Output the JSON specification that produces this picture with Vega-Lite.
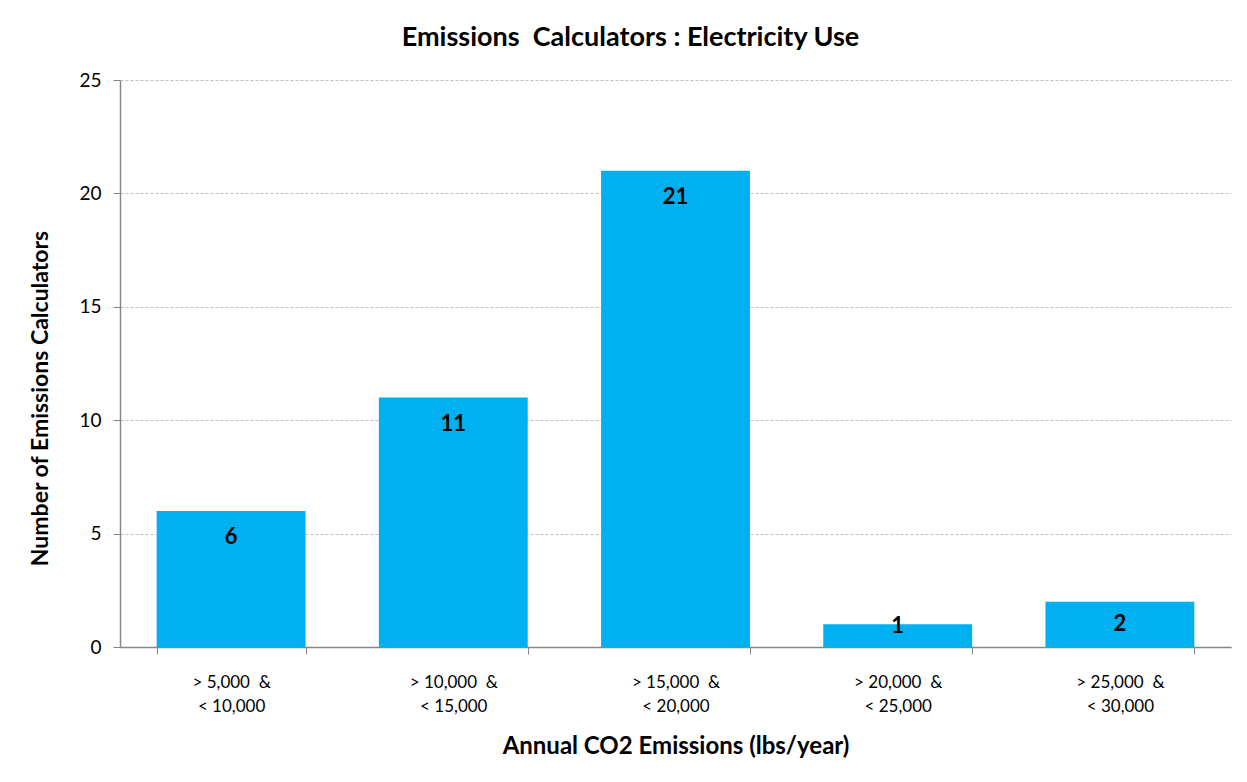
{
  "$schema": "https://vega.github.io/schema/vega-lite/v6.json",
  "width": 1111,
  "height": 567,
  "autosize": "none",
  "padding": {"left": 120, "top": 80, "right": 16, "bottom": 135},
  "background": "white",
  "title": {
    "text": "Emissions\u00a0 Calculators : Electricity Use",
    "font": "Lato",
    "fontSize": 27,
    "fontWeight": "bold",
    "color": "black",
    "anchor": "middle",
    "dx": -45,
    "offset": 19
  },
  "data": {
    "values": [
      {"range": "> 5,000\u00a0 &|< 10,000", "count": 6},
      {"range": "> 10,000\u00a0 &|< 15,000", "count": 11},
      {"range": "> 15,000\u00a0 &|< 20,000", "count": 21},
      {"range": "> 20,000\u00a0 &|< 25,000", "count": 1},
      {"range": "> 25,000\u00a0 &|< 30,000", "count": 2}
    ]
  },
  "encoding": {
    "x": {
      "field": "range",
      "type": "nominal",
      "sort": null,
      "scale": {"paddingInner": 0.33, "paddingOuter": 0.165},
      "axis": {
        "title": "Annual CO2 Emissions (lbs/year)",
        "titleFont": "Lato",
        "titleFontSize": 24,
        "titleFontWeight": "bold",
        "titleColor": "black",
        "titlePadding": 20,
        "labelExpr": "split(datum.label, '|')",
        "labelFont": "Lato",
        "labelFontSize": 17,
        "labelColor": "black",
        "labelAngle": 0,
        "labelLineHeight": 24,
        "labelPadding": 20,
        "tickBand": "extent",
        "tickSize": 7,
        "tickColor": "#868686",
        "domainColor": "#868686",
        "grid": false
      }
    },
    "y": {
      "field": "count",
      "type": "quantitative",
      "scale": {"domain": [0, 25]},
      "axis": {
        "title": "Number of Emissions Calculators",
        "titleFont": "Lato",
        "titleFontSize": 23,
        "titleFontWeight": "bold",
        "titleColor": "black",
        "titlePadding": 26,
        "titleY": 318,
        "values": [0, 5, 10, 15, 20, 25],
        "labelFont": "Lato",
        "labelFontSize": 19,
        "labelColor": "black",
        "labelPadding": 12,
        "tickSize": 7,
        "tickColor": "#868686",
        "domainColor": "#868686",
        "grid": true,
        "gridColor": "#BFBFBF",
        "gridDash": [3, 2]
      }
    }
  },
  "layer": [
    {"mark": {"type": "bar", "color": "#00B0F0"}},
    {
      "transform": [{"filter": "datum.count > 2"}],
      "mark": {"type": "text", "font": "Lato", "fontSize": 22, "fontWeight": "bold", "color": "black", "baseline": "middle", "align": "center", "dy": 26},
      "encoding": {"text": {"field": "count", "type": "quantitative"}}
    },
    {
      "transform": [{"filter": "datum.count == 2"}],
      "mark": {"type": "text", "font": "Lato", "fontSize": 22, "fontWeight": "bold", "color": "black", "baseline": "middle", "align": "center", "dy": 22},
      "encoding": {"text": {"field": "count", "type": "quantitative"}}
    },
    {
      "transform": [{"filter": "datum.count == 1"}],
      "mark": {"type": "text", "font": "Lato", "fontSize": 22, "fontWeight": "bold", "color": "black", "baseline": "middle", "align": "center", "dy": 2},
      "encoding": {"text": {"field": "count", "type": "quantitative"}}
    }
  ],
  "config": {
    "view": {"stroke": null},
    "axis": {"domainWidth": 1.5}
  }
}
